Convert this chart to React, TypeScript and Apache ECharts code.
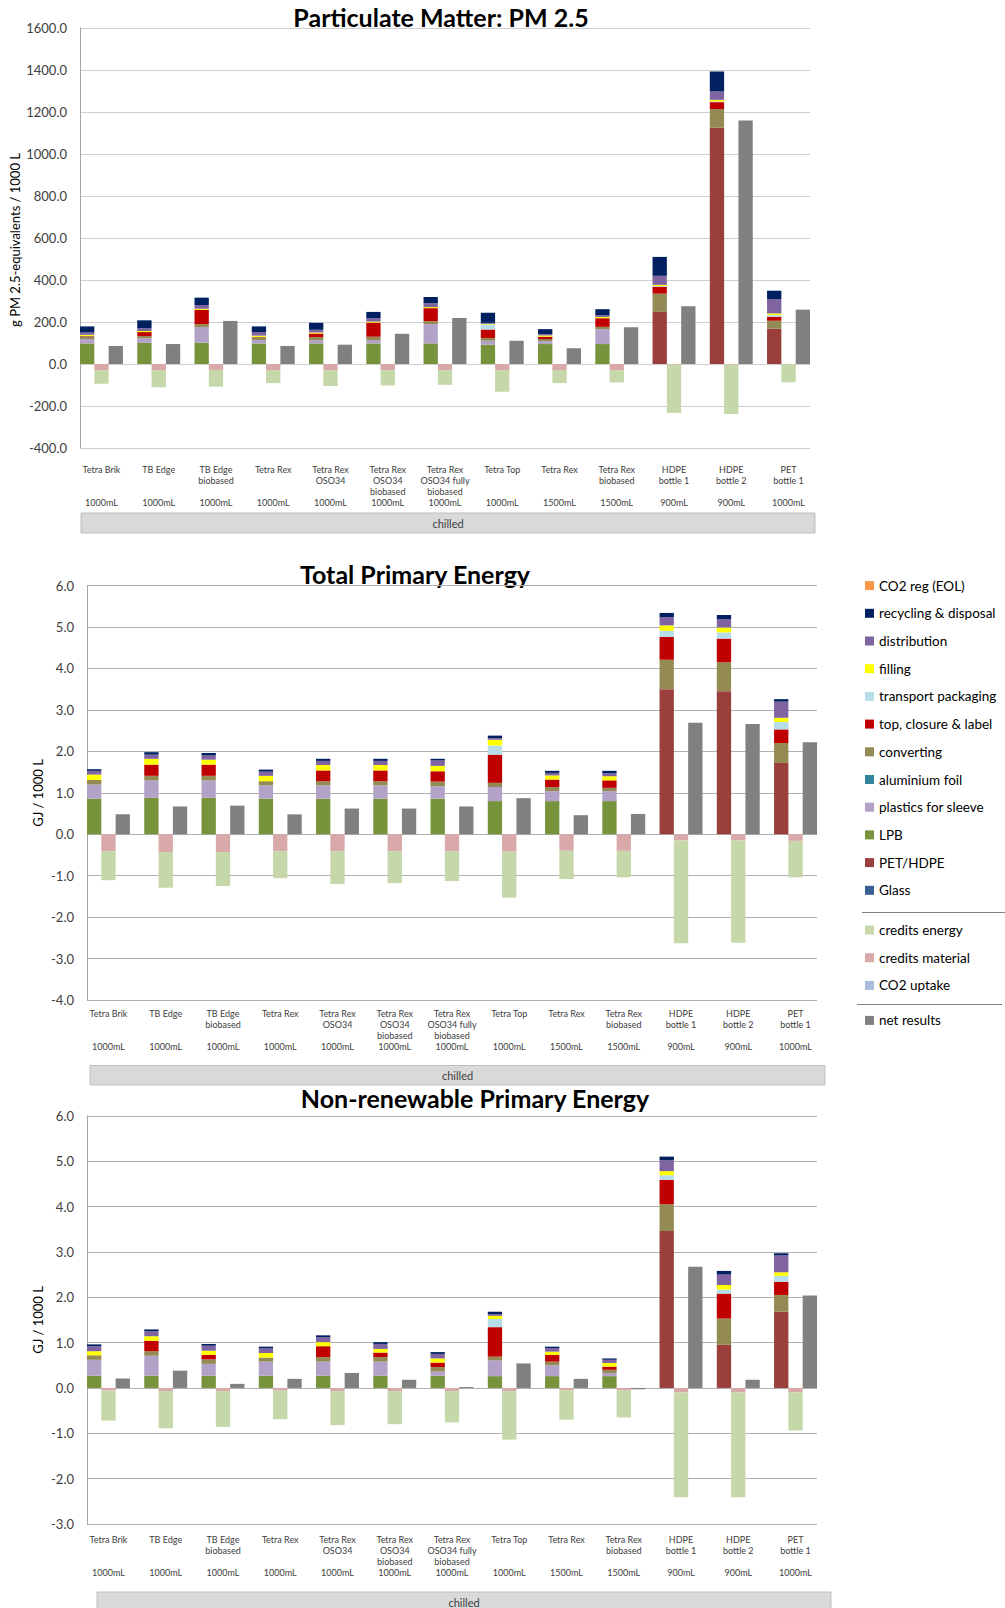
import React, { useEffect, useRef } from "react";
import * as echarts from "echarts";

// ---------- categories ----------
const CATEGORY_NAMES = [
  "Tetra Brik",
  "TB Edge",
  "TB Edge\nbiobased",
  "Tetra Rex",
  "Tetra Rex\nOSO34",
  "Tetra Rex\nOSO34\nbiobased",
  "Tetra Rex\nOSO34 fully\nbiobased",
  "Tetra Top",
  "Tetra Rex",
  "Tetra Rex\nbiobased",
  "HDPE\nbottle 1",
  "HDPE\nbottle 2",
  "PET\nbottle 1",
];
const VOLUMES = ["1000mL", "1000mL", "1000mL", "1000mL", "1000mL", "1000mL", "1000mL", "1000mL", "1500mL", "1500mL", "900mL", "900mL", "1000mL"];
const GROUP_LABEL = "chilled";

const NONE = [0, 0, 0, 0, 0, 0, 0, 0, 0, 0, 0, 0, 0];

// ---------- Particulate Matter PM 2.5 ----------
const PM_PETHDPE = [0, 0, 0, 0, 0, 0, 0, 0, 0, 0, 248, 1125, 168];
const PM_LPB = [98, 101, 101, 98, 98, 98, 98, 92, 95, 95, 0, 0, 0];
const PM_SLEEVE = [21, 22, 75, 16, 16, 16, 92, 19, 14, 71, 0, 0, 0];
const PM_CONVERTING = [13, 10, 14, 13, 14, 16, 14, 13, 10, 11, 87, 89, 38];
const PM_TOPCLOSURE = [2, 19, 68, 2, 17, 67, 62, 40, 11, 41, 33, 33, 19];
const PM_TRANSPORT = [0, 0, 0, 0, 0, 0, 0, 24, 0, 0, 3, 3, 8];
const PM_FILLING = [5, 5, 5, 6, 5, 5, 5, 3, 6, 6, 6, 8, 8];
const PM_DISTRIBUTION = [11, 13, 18, 17, 13, 16, 18, 5, 6, 8, 43, 40, 67];
const PM_RECYCLING = [29, 38, 35, 27, 33, 30, 30, 48, 24, 29, 90, 95, 41];
const PM_CRED_MAT = [-29, -29, -29, -29, -29, -29, -29, -29, -29, -29, -3, -3, -2];
const PM_CRED_EN = [-65, -82, -79, -62, -76, -73, -70, -103, -62, -59, -230, -235, -85];
const PM_NET = [86, 95, 205, 86, 92, 144, 219, 111, 75, 175, 275, 1159, 259];

// ---------- Total Primary Energy ----------
const TPE_PETHDPE = [0, 0, 0, 0, 0, 0, 0, 0, 0, 0, 3.5, 3.45, 1.72];
const TPE_LPB = [0.86, 0.88, 0.88, 0.86, 0.86, 0.86, 0.86, 0.8, 0.8, 0.8, 0, 0, 0];
const TPE_SLEEVE = [0.34, 0.42, 0.42, 0.32, 0.32, 0.32, 0.3, 0.34, 0.24, 0.24, 0, 0, 0];
const TPE_CONVERTING = [0.11, 0.11, 0.11, 0.1, 0.1, 0.1, 0.11, 0.1, 0.1, 0.08, 0.71, 0.7, 0.48];
const TPE_TOPCLOSURE = [0, 0.27, 0.27, 0, 0.26, 0.26, 0.25, 0.68, 0.18, 0.18, 0.55, 0.57, 0.33];
const TPE_TRANSPORT = [0, 0, 0, 0, 0, 0, 0, 0.22, 0, 0, 0.15, 0.15, 0.18];
const TPE_FILLING = [0.13, 0.14, 0.12, 0.13, 0.13, 0.13, 0.13, 0.14, 0.1, 0.1, 0.13, 0.12, 0.1];
const TPE_DISTRIBUTION = [0.09, 0.1, 0.1, 0.1, 0.1, 0.1, 0.13, 0.04, 0.06, 0.07, 0.2, 0.2, 0.39];
const TPE_RECYCLING = [0.04, 0.06, 0.06, 0.05, 0.05, 0.05, 0.04, 0.06, 0.05, 0.06, 0.1, 0.1, 0.06];
const TPE_CRED_MAT = [-0.41, -0.43, -0.43, -0.41, -0.41, -0.41, -0.41, -0.42, -0.4, -0.4, -0.15, -0.15, -0.16];
const TPE_CRED_EN = [-0.7, -0.86, -0.82, -0.65, -0.79, -0.77, -0.72, -1.11, -0.68, -0.64, -2.48, -2.47, -0.88];
const TPE_NET = [0.48, 0.67, 0.69, 0.48, 0.62, 0.62, 0.67, 0.87, 0.46, 0.49, 2.69, 2.66, 2.22];

// ---------- Non-renewable Primary Energy ----------
const NRE_PETHDPE = [0, 0, 0, 0, 0, 0, 0, 0, 0, 0, 3.46, 0.95, 1.68];
const NRE_LPB = [0.27, 0.27, 0.27, 0.27, 0.27, 0.27, 0.27, 0.26, 0.26, 0.26, 0, 0, 0];
const NRE_SLEEVE = [0.35, 0.44, 0.26, 0.31, 0.31, 0.31, 0.09, 0.35, 0.24, 0.07, 0, 0, 0];
const NRE_CONVERTING = [0.1, 0.1, 0.1, 0.09, 0.1, 0.1, 0.1, 0.08, 0.08, 0.07, 0.59, 0.58, 0.37];
const NRE_TOPCLOSURE = [0, 0.23, 0.1, 0, 0.24, 0.1, 0.1, 0.65, 0.15, 0.07, 0.54, 0.55, 0.29];
const NRE_TRANSPORT = [0, 0, 0, 0, 0, 0, 0, 0.18, 0, 0, 0.1, 0.09, 0.13];
const NRE_FILLING = [0.09, 0.1, 0.09, 0.1, 0.09, 0.08, 0.09, 0.07, 0.07, 0.08, 0.09, 0.1, 0.08];
const NRE_DISTRIBUTION = [0.11, 0.11, 0.11, 0.1, 0.11, 0.11, 0.1, 0.04, 0.08, 0.07, 0.24, 0.23, 0.37];
const NRE_RECYCLING = [0.04, 0.04, 0.04, 0.04, 0.04, 0.04, 0.04, 0.05, 0.03, 0.03, 0.08, 0.08, 0.05];
const NRE_CRED_MAT = [-0.06, -0.07, -0.07, -0.06, -0.07, -0.07, -0.07, -0.07, -0.05, -0.05, -0.1, -0.1, -0.1];
const NRE_CRED_EN = [-0.66, -0.82, -0.79, -0.63, -0.75, -0.73, -0.69, -1.07, -0.65, -0.6, -2.31, -2.31, -0.84];
const NRE_NET = [0.21, 0.38, 0.09, 0.2, 0.33, 0.18, 0.02, 0.54, 0.2, -0.03, 2.67, 0.18, 2.04];

// ---------- axis ticks ----------
const Y_TICKS_PM = { min: -400, max: 1600, interval: 200 };
const Y_TICKS_TPE = { min: -4, max: 6, interval: 1 };
const Y_TICKS_NRE = { min: -3, max: 6, interval: 1 };

const TITLES = ["Particulate Matter: PM 2.5", "Total Primary Energy", "Non-renewable Primary Energy"];
const Y_NAMES = ["g PM 2.5-equivalents / 1000 L", "GJ / 1000 L", "GJ / 1000 L"];

// ---------- styling ----------
const COLORS: Record<string, string> = {
  "CO2 reg (EOL)": "#F79646",
  "recycling & disposal": "#002060",
  distribution: "#8064A2",
  filling: "#FFFF00",
  "transport packaging": "#B7DEE8",
  "top, closure & label": "#C00000",
  converting: "#948A54",
  "aluminium foil": "#31859C",
  "plastics for sleeve": "#B3A2C7",
  LPB: "#77933C",
  "PET/HDPE": "#9B3F3D",
  Glass: "#376092",
  "credits energy": "#C6D7A9",
  "credits material": "#D9A8A8",
  "CO2 uptake": "#A9BCDD",
  "net results": "#808080",
};
const LEGEND_MAIN = [
  "CO2 reg (EOL)",
  "recycling & disposal",
  "distribution",
  "filling",
  "transport packaging",
  "top, closure & label",
  "converting",
  "aluminium foil",
  "plastics for sleeve",
  "LPB",
  "PET/HDPE",
  "Glass",
];
const LEGEND_CREDITS = ["credits energy", "credits material", "CO2 uptake"];
const LEGEND_NET = ["net results"];

const FONT = "Lato";
const SLOTS = 51;

const GRIDS = [
  { left: 80, top: 28, width: 730, height: 420 },
  { left: 87, top: 585.6, width: 730, height: 414.4 },
  { left: 87, top: 1115.8, width: 730, height: 408.2 },
];
const LABEL_MARGINS = [15.5, 7.5, 9.5];
const GRID_COLORS = ["#cfcfcf", "#b0b0b0", "#b0b0b0"];

type Comp = { name: string; values: number[]; offset: number };

function chartComps(
  pet: number[], lpb: number[], sleeve: number[], conv: number[], top: number[], transport: number[],
  filling: number[], distr: number[], recyc: number[], credMat: number[], credEn: number[], net: number[]
): Comp[] {
  return [
    { name: "Glass", values: NONE, offset: 0 },
    { name: "PET/HDPE", values: pet, offset: 0 },
    { name: "LPB", values: lpb, offset: 0 },
    { name: "plastics for sleeve", values: sleeve, offset: 0 },
    { name: "aluminium foil", values: NONE, offset: 0 },
    { name: "converting", values: conv, offset: 0 },
    { name: "top, closure & label", values: top, offset: 0 },
    { name: "transport packaging", values: transport, offset: 0 },
    { name: "filling", values: filling, offset: 0 },
    { name: "distribution", values: distr, offset: 0 },
    { name: "recycling & disposal", values: recyc, offset: 0 },
    { name: "CO2 reg (EOL)", values: NONE, offset: 0 },
    { name: "credits material", values: credMat, offset: 1 },
    { name: "credits energy", values: credEn, offset: 1 },
    { name: "CO2 uptake", values: NONE, offset: 1 },
    { name: "net results", values: net, offset: 2 },
  ];
}

function slotData(values: number[], offset: number) {
  const d: (number | null)[] = [];
  for (let s = 0; s < SLOTS; s++) d.push(null);
  values.forEach((v, i) => {
    d[i * 4 + offset] = v;
  });
  return d;
}

const SLOT_IDS: string[] = [];
for (let s = 0; s < SLOTS; s++) SLOT_IDS.push("s" + s);

function slotLabel(id: string) {
  const s = parseInt(id.slice(1), 10);
  if (s % 4 !== 1) return "";
  const i = (s - 1) / 4;
  const lines = CATEGORY_NAMES[i].split("\n");
  while (lines.length < 3) lines.push("");
  return lines.join("\n") + "\n" + VOLUMES[i];
}

function buildOption() {
  const allComps = [
    chartComps(PM_PETHDPE, PM_LPB, PM_SLEEVE, PM_CONVERTING, PM_TOPCLOSURE, PM_TRANSPORT, PM_FILLING, PM_DISTRIBUTION, PM_RECYCLING, PM_CRED_MAT, PM_CRED_EN, PM_NET),
    chartComps(TPE_PETHDPE, TPE_LPB, TPE_SLEEVE, TPE_CONVERTING, TPE_TOPCLOSURE, TPE_TRANSPORT, TPE_FILLING, TPE_DISTRIBUTION, TPE_RECYCLING, TPE_CRED_MAT, TPE_CRED_EN, TPE_NET),
    chartComps(NRE_PETHDPE, NRE_LPB, NRE_SLEEVE, NRE_CONVERTING, NRE_TOPCLOSURE, NRE_TRANSPORT, NRE_FILLING, NRE_DISTRIBUTION, NRE_RECYCLING, NRE_CRED_MAT, NRE_CRED_EN, NRE_NET),
  ];
  const yTicks = [Y_TICKS_PM, Y_TICKS_TPE, Y_TICKS_NRE];

  const series: any[] = [];
  allComps.forEach((comps, ci) => {
    comps.forEach((c) => {
      series.push({
        type: "bar",
        name: c.name,
        xAxisIndex: ci,
        yAxisIndex: ci,
        stack: "g" + ci,
        barWidth: "100%",
        barCategoryGap: "0%",
        itemStyle: { color: COLORS[c.name] },
        data: slotData(c.values, c.offset),
      });
    });
  });

  const xAxis = GRIDS.map((g, ci) => ({
    type: "category",
    gridIndex: ci,
    data: SLOT_IDS,
    boundaryGap: true,
    axisLine: { show: false },
    axisTick: { show: false },
    splitLine: { show: false },
    axisLabel: {
      interval: 0,
      margin: LABEL_MARGINS[ci],
      fontSize: 9,
      lineHeight: 11,
      color: "#404040",
      fontFamily: FONT,
      formatter: (v: string) => slotLabel(v),
    },
  }));

  const yAxis = GRIDS.map((g, ci) => ({
    type: "value",
    gridIndex: ci,
    min: yTicks[ci].min,
    max: yTicks[ci].max,
    interval: yTicks[ci].interval,
    axisLine: { show: true, lineStyle: { color: "#a6a6a6", width: 1 } },
    axisTick: { show: false },
    splitLine: { show: true, lineStyle: { color: GRID_COLORS[ci], width: 1 } },
    axisLabel: {
      margin: 13,
      fontSize: 13,
      color: "#404040",
      fontFamily: FONT,
      formatter: (v: number) => v.toFixed(1),
    },
  }));

  const titlePos = [
    { x: 441, y: 17 },
    { x: 415, y: 574 },
    { x: 475, y: 1098 },
  ];
  const yNamePos = [
    { x: 15, y: 240 },
    { x: 38, y: 793 },
    { x: 38, y: 1320 },
  ];
  const chilledBoxes = [
    { x: 81, y: 513, w: 734, h: 20 },
    { x: 90, y: 1065.5, w: 735, h: 19.5 },
    { x: 97, y: 1592, w: 734, h: 20 },
  ];

  const graphic: any[] = [];
  TITLES.forEach((t, i) => {
    graphic.push({
      type: "text",
      x: titlePos[i].x,
      y: titlePos[i].y,
      style: {
        text: t,
        fontSize: 25,
        fontWeight: "bold",
        fontFamily: FONT,
        fill: "#000000",
        align: "center",
        verticalAlign: "middle",
        textAlign: "center",
        textVerticalAlign: "middle",
      },
    });
  });
  Y_NAMES.forEach((t, i) => {
    graphic.push({
      type: "text",
      x: yNamePos[i].x,
      y: yNamePos[i].y,
      rotation: Math.PI / 2,
      style: {
        text: t,
        fontSize: 13,
        fontFamily: FONT,
        fill: "#000000",
        align: "center",
        verticalAlign: "middle",
        textAlign: "center",
        textVerticalAlign: "middle",
      },
    });
  });
  chilledBoxes.forEach((b) => {
    graphic.push({
      type: "rect",
      shape: { x: b.x, y: b.y, width: b.w, height: b.h },
      style: { fill: "#d9d9d9", stroke: "#bfbfbf", lineWidth: 1 },
    });
    graphic.push({
      type: "text",
      x: b.x + b.w / 2,
      y: b.y + b.h / 2,
      style: {
        text: GROUP_LABEL,
        fontSize: 11,
        fontFamily: FONT,
        fill: "#404040",
        align: "center",
        verticalAlign: "middle",
        textAlign: "center",
        textVerticalAlign: "middle",
      },
    });
  });
  graphic.push({ type: "line", shape: { x1: 862, y1: 912.5, x2: 1005, y2: 912.5 }, style: { stroke: "#808080", lineWidth: 1.2 } });
  graphic.push({ type: "line", shape: { x1: 857, y1: 1004.5, x2: 1002, y2: 1004.5 }, style: { stroke: "#808080", lineWidth: 1.2 } });

  const legendBase = {
    orient: "vertical",
    left: 865,
    icon: "rect",
    itemWidth: 9,
    itemHeight: 9,
    itemGap: 13.7,
    selectedMode: false,
    padding: 0,
    textStyle: { fontSize: 13.5, fontFamily: FONT, color: "#000000", lineHeight: 14 },
  };
  const legend = [
    { ...legendBase, top: 578.6, data: LEGEND_MAIN },
    { ...legendBase, top: 923, data: LEGEND_CREDITS },
    { ...legendBase, top: 1013.4, data: LEGEND_NET },
  ];

  return {
    animation: false,
    backgroundColor: "#ffffff",
    textStyle: { fontFamily: FONT },
    grid: GRIDS.map((g) => ({ ...g, containLabel: false })),
    xAxis,
    yAxis,
    series,
    legend,
    graphic,
  };
}

export default function App() {
  const ref = useRef<HTMLDivElement>(null);
  useEffect(() => {
    document.body.style.margin = "0";
    const chart = echarts.init(ref.current as HTMLDivElement, null, { renderer: "svg" });
    chart.setOption(buildOption() as any);
    return () => chart.dispose();
  }, []);
  return <div ref={ref} style={{ width: 1005, height: 1608 }} />;
}
